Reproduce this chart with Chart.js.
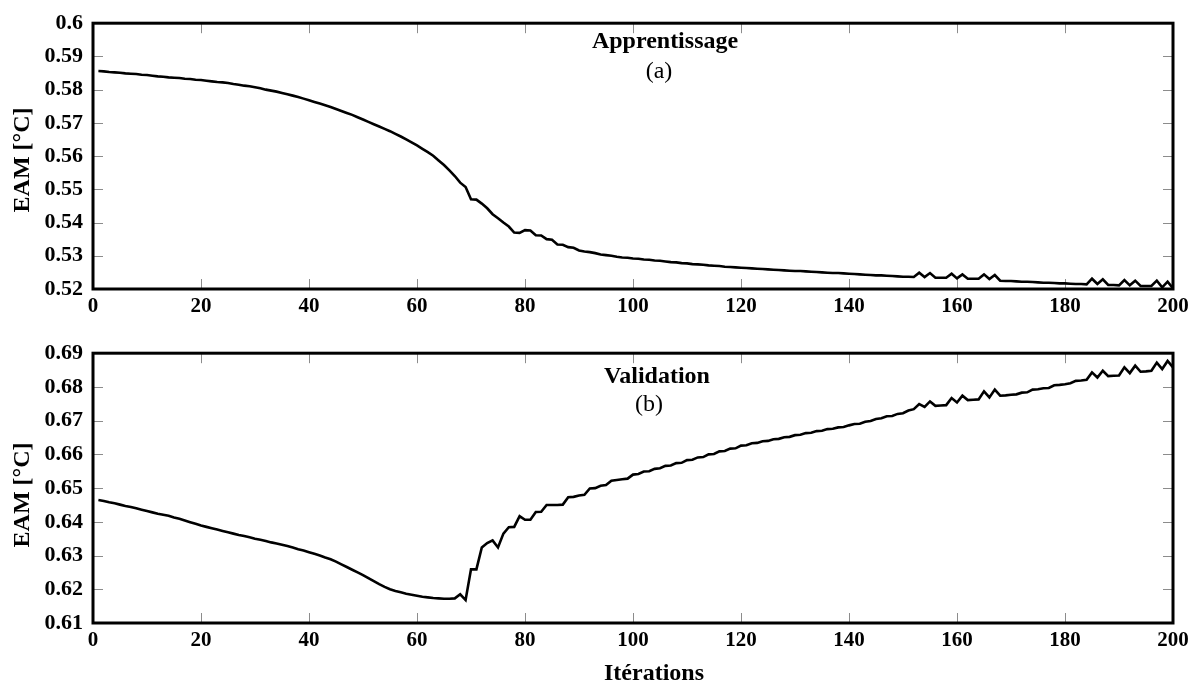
<!DOCTYPE html>
<html><head><meta charset="utf-8">
<script src="https://cdn.jsdelivr.net/npm/chart.js@4.4.1/dist/chart.umd.min.js"></script>
<style>
html,body{margin:0;padding:0;background:#fff;}
#wrap{position:relative;width:1203px;height:686px;overflow:hidden;}
canvas{position:absolute;left:0;}
#c1{top:0;}
#c2{top:330px;}
</style></head><body>
<div id="wrap"><canvas id="c1" width="1203" height="330"></canvas><canvas id="c2" width="1203" height="356"></canvas></div>
<script>
// ---- data ----
const iterations = Array.from({length: 200}, (_, i) => i + 1);
const apprentissage = [
0.5856,0.5855,0.5853,0.5852,0.5851,0.5849,0.5848,0.5847,0.5845,0.5844,
0.5842,0.5840,0.5839,0.5837,0.5836,0.5835,0.5833,0.5832,0.5830,0.5829,
0.5827,0.5825,0.5823,0.5822,0.5820,0.5817,0.5815,0.5812,0.5810,0.5807,
0.5804,0.5800,0.5797,0.5794,0.5790,0.5786,0.5782,0.5778,0.5773,0.5768,
0.5763,0.5758,0.5753,0.5748,0.5742,0.5736,0.5730,0.5724,0.5717,0.5710,
0.5703,0.5696,0.5689,0.5682,0.5675,0.5667,0.5659,0.5650,0.5641,0.5632,
0.5622,0.5612,0.5601,0.5587,0.5573,0.5557,0.5540,0.5520,0.5507,0.5470,
0.5469,0.5457,0.5443,0.5425,0.5413,0.5400,0.5388,0.5370,0.5369,0.5377,
0.5376,0.5362,0.5361,0.5350,0.5348,0.5334,0.5333,0.5326,0.5324,0.5316,
0.5313,0.5311,0.5308,0.5304,0.5302,0.5300,0.5297,0.5295,0.5294,0.5292,
0.5291,0.5289,0.5288,0.5286,0.5285,0.5283,0.5281,0.5280,0.5278,0.5277,
0.5275,0.5274,0.5273,0.5271,0.5270,0.5269,0.5267,0.5266,0.5265,0.5264,
0.5263,0.5262,0.5261,0.5260,0.5259,0.5258,0.5257,0.5256,0.5255,0.5254,
0.5254,0.5253,0.5252,0.5251,0.5250,0.5249,0.5248,0.5248,0.5247,0.5246,
0.5245,0.5244,0.5243,0.5242,0.5241,0.5241,0.5240,0.5239,0.5238,0.5237,
0.5237,0.5236,0.5249,0.5236,0.5248,0.5234,0.5234,0.5234,0.5246,0.5232,
0.5244,0.5231,0.5231,0.5231,0.5244,0.5230,0.5242,0.5225,0.5224,0.5224,
0.5223,0.5222,0.5222,0.5221,0.5220,0.5219,0.5219,0.5218,0.5217,0.5217,
0.5216,0.5215,0.5215,0.5214,0.5231,0.5215,0.5229,0.5212,0.5212,0.5211,
0.5227,0.5211,0.5225,0.5209,0.5209,0.5209,0.5225,0.5205,0.5222,0.5202
];
const validation = [
0.6465,0.6462,0.6458,0.6455,0.6451,0.6447,0.6444,0.6440,0.6436,0.6432,
0.6428,0.6424,0.6421,0.6418,0.6413,0.6409,0.6404,0.6399,0.6394,0.6389,
0.6385,0.6381,0.6377,0.6373,0.6369,0.6365,0.6361,0.6358,0.6354,0.6350,
0.6347,0.6343,0.6339,0.6336,0.6332,0.6328,0.6324,0.6319,0.6315,0.6310,
0.6305,0.6300,0.6294,0.6289,0.6282,0.6274,0.6266,0.6258,0.6250,0.6242,
0.6233,0.6224,0.6215,0.6207,0.6200,0.6195,0.6191,0.6187,0.6184,0.6181,
0.6178,0.6176,0.6174,0.6173,0.6172,0.6172,0.6173,0.6185,0.6168,0.6259,
0.6259,0.6324,0.6337,0.6345,0.6324,0.6365,0.6384,0.6385,0.6417,0.6406,
0.6406,0.6429,0.6430,0.6450,0.6450,0.6450,0.6451,0.6473,0.6474,0.6478,
0.6480,0.6499,0.6500,0.6507,0.6509,0.6522,0.6524,0.6526,0.6528,0.6540,
0.6542,0.6549,0.6550,0.6557,0.6559,0.6566,0.6567,0.6574,0.6575,0.6583,
0.6584,0.6591,0.6592,0.6600,0.6601,0.6609,0.6610,0.6617,0.6618,0.6626,
0.6627,0.6633,0.6634,0.6639,0.6640,0.6645,0.6646,0.6651,0.6652,0.6657,
0.6658,0.6663,0.6664,0.6669,0.6670,0.6675,0.6676,0.6680,0.6681,0.6686,
0.6690,0.6691,0.6697,0.6699,0.6705,0.6707,0.6713,0.6714,0.6720,0.6722,
0.6730,0.6734,0.6749,0.6741,0.6757,0.6744,0.6745,0.6746,0.6767,0.6754,
0.6774,0.6761,0.6762,0.6763,0.6787,0.6769,0.6792,0.6774,0.6775,0.6777,
0.6778,0.6783,0.6784,0.6792,0.6793,0.6796,0.6797,0.6805,0.6806,0.6808,
0.6811,0.6818,0.6819,0.6821,0.6843,0.6828,0.6848,0.6832,0.6833,0.6834,
0.6858,0.6841,0.6863,0.6845,0.6846,0.6848,0.6872,0.6853,0.6877,0.6858
];
const xTicks = [0, 20, 40, 60, 80, 100, 120, 140, 160, 180, 200];
const yTicksA = [0.52, 0.53, 0.54, 0.55, 0.56, 0.57, 0.58, 0.59, 0.6];
const yTicksB = [0.61, 0.62, 0.63, 0.64, 0.65, 0.66, 0.67, 0.68, 0.69];
const yTitle = 'EAM [°C]';
const xTitle = 'Itérations';
const panelTitles = ['Apprentissage', 'Validation'];
const panelLetters = ['(a)', '(b)'];

// ---- drawing ----
const FONT = '"Liberation Serif", "Times New Roman", serif';

const framePlugin = {
  id: 'frame',
  beforeDatasetsDraw(chart) {
    const {ctx, chartArea: a, scales: {x, y}} = chart;
    ctx.save();
    ctx.strokeStyle = '#8c8c8c';
    ctx.lineWidth = 1;
    const L = 10;
    ctx.beginPath();
    x.ticks.forEach(t => {
      const px = Math.round(x.getPixelForValue(t.value)) + 0.5;
      ctx.moveTo(px, a.top); ctx.lineTo(px, a.top + L);
      ctx.moveTo(px, a.bottom); ctx.lineTo(px, a.bottom - L);
    });
    y.ticks.forEach(t => {
      const py = Math.round(y.getPixelForValue(t.value)) + 0.5;
      ctx.moveTo(a.left, py); ctx.lineTo(a.left + L, py);
      ctx.moveTo(a.right, py); ctx.lineTo(a.right - L, py);
    });
    ctx.stroke();
    ctx.restore();
  },
  afterDatasetsDraw(chart, args, opts) {
    const {ctx, chartArea: a} = chart;
    ctx.save();
    ctx.strokeStyle = '#000';
    ctx.lineWidth = 3;
    ctx.strokeRect(a.left, a.top, a.right - a.left, a.bottom - a.top);
    ctx.fillStyle = '#000';
    ctx.textAlign = 'center';
    ctx.textBaseline = 'alphabetic';
    (opts.texts || []).forEach(t => {
      ctx.font = (t.bold ? 'bold ' : '') + t.size + 'px ' + FONT;
      ctx.fillText(t.text, t.x, t.y);
    });
    // y axis title (rotated)
    ctx.save();
    ctx.translate(29, opts.yTitleY);
    ctx.rotate(-Math.PI / 2);
    ctx.font = 'bold 24px ' + FONT;
    ctx.fillText(yTitle, 0, 0);
    ctx.restore();
    ctx.restore();
  }
};

function makeChart(id, values, yTicks, texts, yTitleY, xAxisH) {
  const data = iterations.map((it, i) => ({x: it, y: values[i]}));
  return new Chart(document.getElementById(id), {
    type: 'line',
    data: { datasets: [{ data, borderColor: '#000', borderWidth: 2.6, pointRadius: 0, tension: 0, fill: false }] },
    options: {
      responsive: false, animation: false, devicePixelRatio: 1,
      layout: { padding: { top: id === 'c1' ? 18 : 22, right: 30, left: 0, bottom: 0 } },
      plugins: { legend: { display: false }, tooltip: { enabled: false }, frame: { texts, yTitleY } },
      scales: {
        x: {
          type: 'linear', min: 0, max: 200,
          grid: { display: false, drawTicks: false },
          border: { display: false },
          afterBuildTicks: s => { s.ticks = xTicks.map(v => ({value: v})); },
          afterFit: s => { s.height = xAxisH; },
          ticks: { color: '#000', padding: 5, maxRotation: 0, font: { family: FONT, size: 21, weight: 'bold' },
                   callback: v => String(v) }
        },
        y: {
          min: yTicks[0], max: yTicks[yTicks.length - 1],
          grid: { display: false, drawTicks: false },
          border: { display: false },
          afterBuildTicks: s => { s.ticks = yTicks.map(v => ({value: v})); },
          afterFit: s => { s.width = 93; },
          ticks: { color: '#000', padding: 10, font: { family: FONT, size: 22, weight: 'bold' },
                   callback: v => String(+Number(v).toFixed(2)) }
        }
      }
    },
    plugins: [framePlugin]
  });
}

makeChart('c1', apprentissage, yTicksA, [
  {text: panelTitles[0], x: 665, y: 48, size: 24, bold: true},
  {text: panelLetters[0], x: 659, y: 78, size: 24, bold: false}
], 160, 41);

makeChart('c2', validation, yTicksB, [
  {text: panelTitles[1], x: 657, y: 53, size: 24, bold: true},
  {text: panelLetters[1], x: 649, y: 81, size: 24, bold: false},
  {text: xTitle, x: 654, y: 350, size: 24, bold: true}
], 165, 63);
</script>
</body></html>
